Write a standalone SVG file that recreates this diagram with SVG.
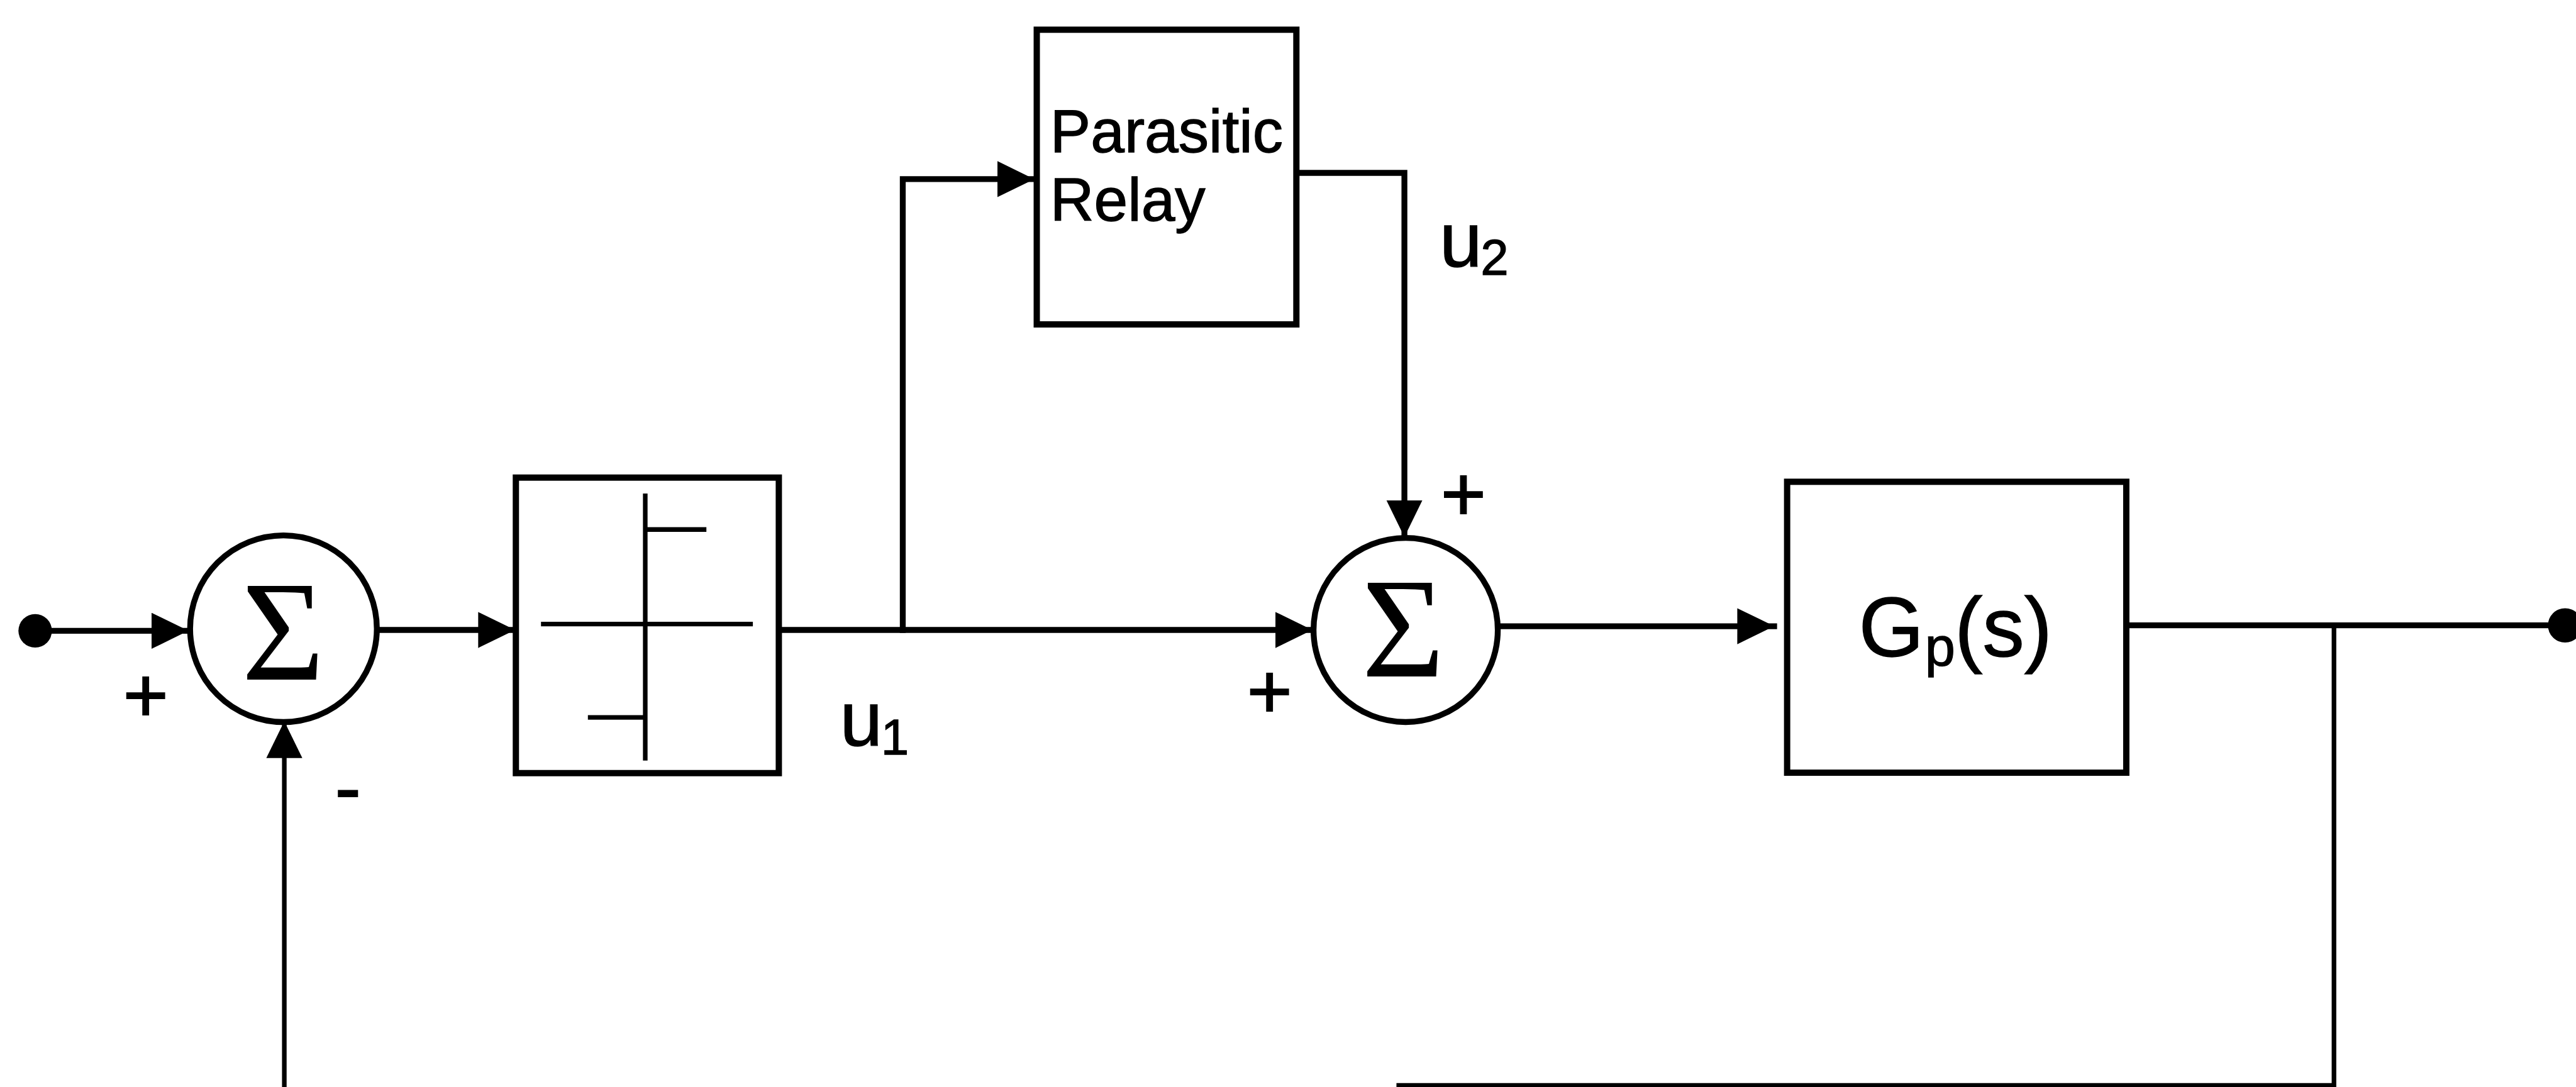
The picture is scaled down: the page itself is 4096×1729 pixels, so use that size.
<svg xmlns="http://www.w3.org/2000/svg" width="4096" height="1729" viewBox="0 0 4096 1729">
<style>
.ln{fill:none;stroke:#000;stroke-width:14;stroke-linejoin:miter;stroke-linecap:square}
.fb{fill:none;stroke:#000;stroke-width:11}
.box{fill:#fff;stroke:#000;stroke-width:15}
.sum{fill:#fff;stroke:#000;stroke-width:14}
.inner{fill:none;stroke:#000;stroke-width:11}
.sig{font-family:"Liberation Serif","Times New Roman",serif;font-size:340px;text-anchor:middle;fill:#000}
.lbl{font-family:"Liberation Sans",Arial,sans-serif;fill:#000;stroke:#000;stroke-width:2}
.sign{font-family:"Liberation Sans",Arial,sans-serif;font-size:185px;text-anchor:middle;fill:#000;stroke:#000;stroke-width:3}
</style>
<defs>
<marker id="ah" markerUnits="userSpaceOnUse" markerWidth="90" markerHeight="90" refX="88" refY="43" orient="auto" viewBox="0 0 90 90">
<path d="M0,0 L88,43 L0,86 Z" fill="#000"/>
</marker>
</defs>
<rect width="4096" height="1729" fill="#fff"/>
<g transform="scale(0.6658)">
<g id="connectors">
<line class="ln" x1="84" y1="1507" x2="450" y2="1507" marker-end="url(#ah)"/>
<line class="ln" x1="902" y1="1505" x2="1230" y2="1505" marker-end="url(#ah)"/>
<line class="ln" x1="1860" y1="1505" x2="3134" y2="1505" marker-end="url(#ah)"/>
<polyline class="ln" points="2156,1505 2156,428 2470,428" marker-end="url(#ah)"/>
<polyline class="ln" points="3096,413 3354,413 3354,1283" marker-end="url(#ah)"/>
<line class="ln" x1="3577" y1="1496" x2="4237" y2="1496" marker-end="url(#ah)"/>
<line class="ln" x1="5078" y1="1494" x2="6126" y2="1494"/>
<line class="fb" x1="5574" y1="1494" x2="5574" y2="2600"/>
<line class="fb" x1="3335" y1="2593" x2="5574" y2="2593" stroke-width="12"/>
<line class="fb" x1="679" y1="2600" x2="679" y2="1723" marker-end="url(#ah)"/>
<circle cx="84" cy="1507" r="40" fill="#000"/>
<circle cx="6126" cy="1494" r="41" fill="#000"/>
</g>
<g id="sum1">
<circle class="sum" cx="677" cy="1502" r="223"/>
<text class="sig" x="676" y="1623">Σ</text>
<text class="sign" x="348" y="1725">+</text>
<text class="sign" x="831" y="1945">-</text>
</g>
<g id="relay">
<rect class="box" x="1232" y="1141" width="628" height="706"/>
<line class="inner" x1="1541" y1="1179" x2="1541" y2="1817"/>
<line class="inner" x1="1292" y1="1491" x2="1798" y2="1491"/>
<line class="inner" x1="1541" y1="1265" x2="1687" y2="1265"/>
<line class="inner" x1="1404" y1="1714" x2="1541" y2="1714"/>
</g>
<g id="label-u1">
<text class="lbl" font-size="183" x="2006" y="1782">u<tspan font-size="120" x="2104" y="1802">1</tspan></text>
</g>
<g id="parasitic-relay">
<rect class="box" x="2476" y="71" width="620" height="704"/>
<text class="lbl" font-size="145" x="2508" y="364">Parasitic</text>
<text class="lbl" font-size="145" x="2508" y="527">Relay</text>
</g>
<g id="label-u2">
<text class="lbl" font-size="183" x="3438" y="637">u<tspan font-size="120" x="3536" y="657">2</tspan></text>
</g>
<g id="sum2">
<circle class="sum" cx="3357" cy="1505" r="220"/>
<text class="sig" x="3351" y="1616">Σ</text>
<text class="sign" x="3495" y="1243">+</text>
<text class="sign" x="3032" y="1715">+</text>
</g>
<g id="plant">
<rect class="box" x="4268" y="1151" width="810" height="695"/>
<text class="lbl" font-size="200" x="4439" y="1568">G<tspan font-size="130" x="4597" y="1590">p</tspan><tspan x="4668" y="1568">(s)</tspan></text>
</g>
</g>
</svg>
